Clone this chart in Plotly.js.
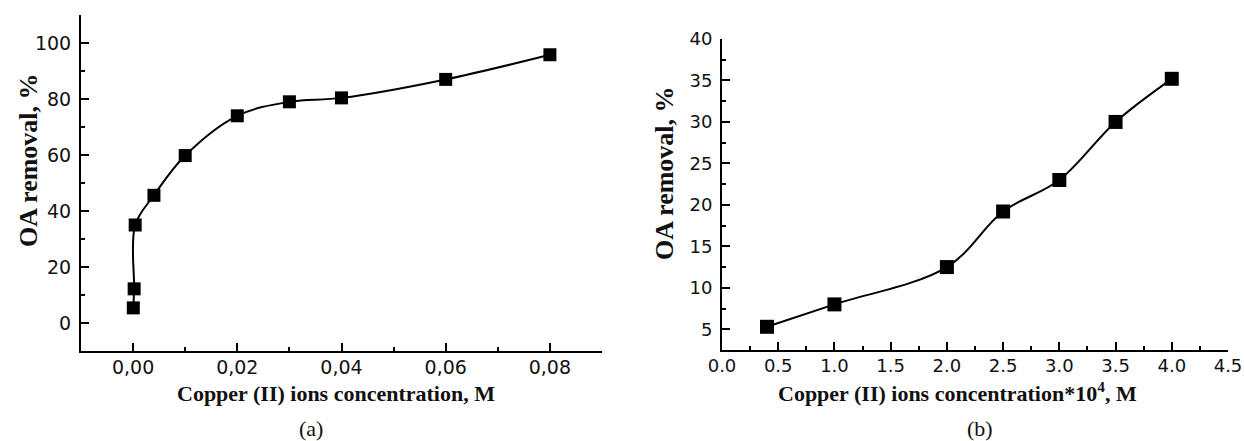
<!DOCTYPE html>
<html>
<head>
<meta charset="utf-8">
<script src="https://cdn.plot.ly/plotly-3.0.1.min.js"></script>
<style>
  html, body { margin: 0; padding: 0; background: #fff; }
  #wrap { display: flex; width: 1244px; height: 441px; }
  #panelA, #panelB { width: 622px; height: 441px; }
</style>
</head>
<body>
<div id="wrap"><div id="panelA"></div><div id="panelB"></div></div>
<script>
// (a) OA removal versus copper(II) concentration, M
const concA = [0.00004, 0.0002, 0.0004, 0.004, 0.01, 0.02, 0.03, 0.04, 0.06, 0.08];
const removalA = [5.4, 12.2, 35.0, 45.6, 59.8, 74.0, 79.0, 80.4, 87.0, 95.8];
const tickValsA = [0, 0.02, 0.04, 0.06, 0.08];
const tickTextA = ['0,00', '0,02', '0,04', '0,06', '0,08'];
const yTicksA = [0, 20, 40, 60, 80, 100];

// (b) OA removal versus copper(II) concentration ×10^4, M
const concB = [0.4, 1.0, 2.0, 2.5, 3.0, 3.5, 4.0];
const removalB = [5.3, 8.0, 12.5, 19.2, 23.0, 30.0, 35.2];
const yTicksB = [5, 10, 15, 20, 25, 30, 35, 40];

// Each panel is its own 622x441 figure; pixel positions become paper fractions
const W = 622, H = 441;
const M = { l: 40, r: 10, t: 10, b: 40 };
const px2x = (px) => (px - M.l) / (W - M.l - M.r);
const px2y = (py) => (H - M.b - py) / (H - M.t - M.b);

const ink = '#000';
const serif = (s) => ({ family: 'Liberation Serif, Times New Roman, serif', size: s, color: '#111' });
const sans = (s) => ({ family: 'DejaVu Sans, sans-serif', size: s, color: '#111' });

const axisBase = () => ({
  showgrid: false, zeroline: false, showline: true, linecolor: ink, linewidth: 2,
  ticks: 'inside', ticklen: 8, tickwidth: 2, tickcolor: ink, mirror: false
});
const minorTicks = (extra) => Object.assign({ ticks: 'inside', ticklen: 4, tickwidth: 2, tickcolor: ink }, extra);
const note = (a) => Object.assign({ xref: 'paper', yref: 'paper', showarrow: false, xanchor: 'center', yanchor: 'middle' }, a);

function makePanel(id, xs, ys, markerSize, xaxis, yaxis, notes) {
  const trace = {
    x: xs, y: ys, type: 'scatter', mode: 'lines+markers',
    line: { color: '#000', width: 2, shape: 'spline', smoothing: 1.0 },
    marker: { symbol: 'square', size: markerSize, color: '#000' }
  };
  const layout = {
    width: W, height: H, margin: M, showlegend: false,
    xaxis: Object.assign(axisBase(), xaxis),
    yaxis: Object.assign(axisBase(), yaxis),
    annotations: notes.map(note)
  };
  Plotly.newPlot(id, [trace], layout, { displayModeBar: false, staticPlot: true });
}

// Panel (a): axis box spans x 81..602 px, y 15..351 px
makePanel('panelA', concA, removalA, 13,
  {
    domain: [px2x(81), px2x(602)], range: [-0.01, 0.09],
    tickmode: 'array', tickvals: tickValsA, ticktext: tickTextA,
    tickfont: sans(19), ticklabelstandoff: -2,
    minor: minorTicks({ tickmode: 'linear', tick0: -0.01, dtick: 0.02 })
  },
  {
    domain: [px2y(351), px2y(15)], range: [-10, 110],
    tickmode: 'array', tickvals: yTicksA,
    tickfont: sans(19), ticklabelstandoff: 4,
    minor: minorTicks({ tickmode: 'linear', tick0: -10, dtick: 20 })
  },
  [
    { text: '<b>OA removal, %</b>', x: px2x(28), y: px2y(160), textangle: -90, font: serif(26) },
    { text: '<b>Copper (II) ions concentration, M</b>', x: px2x(336), y: px2y(393), font: serif(22) },
    { text: '(a)', x: px2x(311), y: px2y(428), font: serif(22) }
  ]
);

// Panel (b): axis box spans x 100..606 px, y 39..350 px within its own figure
makePanel('panelB', concB, removalB, 14,
  {
    domain: [px2x(100), px2x(606)], range: [0, 4.5],
    tickmode: 'linear', tick0: 0, dtick: 0.5, tickformat: '.1f',
    tickfont: sans(18), ticklabelstandoff: -2,
    minor: minorTicks({ tickmode: 'linear', tick0: 0.25, dtick: 0.5 })
  },
  {
    domain: [px2y(350), px2y(39)], range: [2.5, 40],
    tickmode: 'array', tickvals: yTicksB,
    tickfont: sans(18), ticklabelstandoff: 4,
    minor: minorTicks({ tickmode: 'linear', tick0: 2.5, dtick: 5 })
  },
  [
    { text: '<b>OA removal, %</b>', x: px2x(43), y: px2y(173), textangle: -90, font: serif(26) },
    { text: '<b>Copper (II) ions concentration*10<sup>4</sup>, M</b>', x: px2x(335), y: px2y(392), font: serif(22) },
    { text: '(b)', x: px2x(358), y: px2y(428), font: serif(22) }
  ]
);
</script>
</body>
</html>
